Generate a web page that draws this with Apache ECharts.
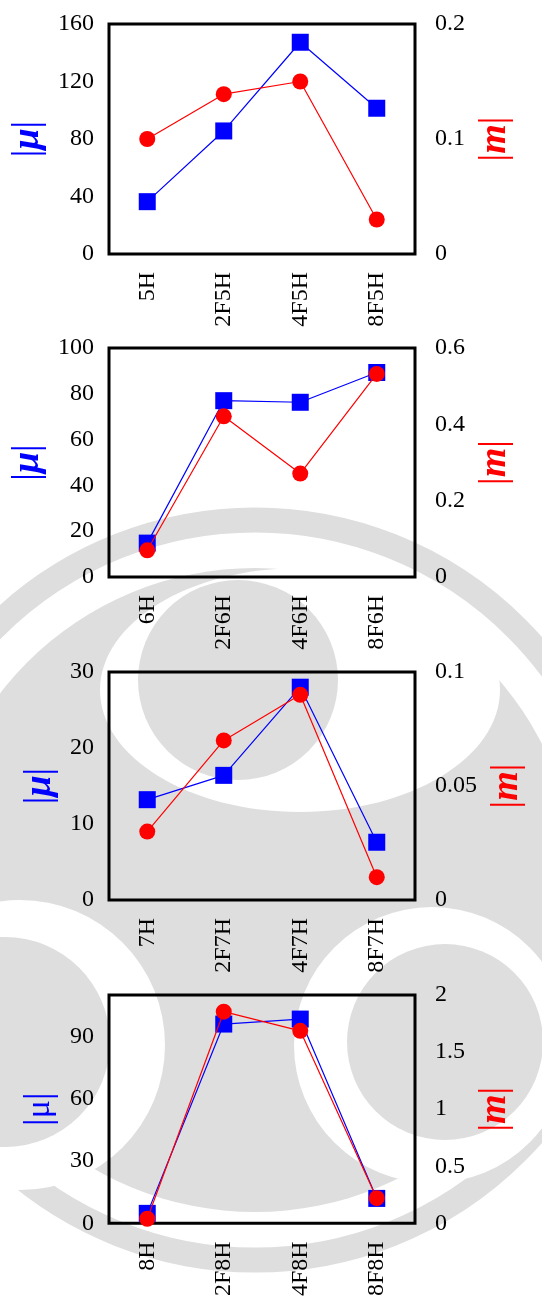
<!DOCTYPE html>
<html>
<head>
<meta charset="utf-8">
<script src="https://cdn.jsdelivr.net/npm/echarts@6/dist/echarts.min.js"></script>
<style>
html,body{margin:0;padding:0;background:#fff;}
#c{width:542px;height:1299px;}
</style>
</head>
<body>
<div id="c"></div>
<script>
// ---- data ----
const cats1 = ['5H', '2F5H', '4F5H', '8F5H'];
const cats2 = ['6H', '2F6H', '4F6H', '8F6H'];
const cats3 = ['7H', '2F7H', '4F7H', '8F7H'];
const cats4 = ['8H', '2F8H', '4F8H', '8F8H'];

const mu1 = [36.4, 85.6, 147.3, 101.4];
const m1  = [0.100, 0.139, 0.150, 0.030];
const mu2 = [14.8, 77.0, 76.3, 89.3];
const m2  = [0.070, 0.421, 0.271, 0.532];
const mu3 = [13.2, 16.4, 28.0, 7.6];
const m3  = [0.030, 0.070, 0.090, 0.010];
const mu4 = [4.8, 96.0, 98.4, 12.0];
const m4  = [0.040, 1.854, 1.686, 0.220];

// axis ranges [min, max, interval]
const muRange1 = [0, 160, 40], mRange1 = [0, 0.2, 0.1];
const muRange2 = [0, 100, 20], mRange2 = [0, 0.6, 0.2];
const muRange3 = [0, 30, 10],  mRange3 = [0, 0.1, 0.05];
const muRange4 = [0, 110, 30], mRange4 = [0, 2, 0.5];

const muName = '{n||}{g|μ}{n||}';
const muNameUpright = '{n||}{u|μ}{n||}';
const mName = '{n||}{g|m}{n||}';

// ---- layout ----
const panels = [
  {cats: cats1, mu: mu1, m: m1, muR: muRange1, mR: mRange1, top: 24,  h: 230, lgap: 61, rgap: 50, muN: muName},
  {cats: cats2, mu: mu2, m: m2, muR: muRange2, mR: mRange2, top: 348, h: 229, lgap: 61, rgap: 50, muN: muName},
  {cats: cats3, mu: mu3, m: m3, muR: muRange3, mR: mRange3, top: 672, h: 228, lgap: 46, rgap: 69, muN: muName},
  {cats: cats4, mu: mu4, m: m4, muR: muRange4, mR: mRange4, top: 995, h: 229, lgap: 46, rgap: 50, muN: muNameUpright}
];

const FONT = 'Liberation Serif';
const NS = 38;
const tickStyle = {color: '#333', width: 1.5};
const grids = [], xAxes = [], yAxes = [], series = [];

function richFor(color) {
  return {
    n: {fontSize: NS, fontFamily: FONT, color: color},
    g: {fontSize: NS, fontFamily: FONT, color: color, fontStyle: 'italic', fontWeight: 'bold'},
    u: {fontSize: NS - 4, fontFamily: FONT, color: color}
  };
}

panels.forEach((p, i) => {
  grids.push({left: 109, width: 306, top: p.top, height: p.h, show: true,
              borderColor: '#000', borderWidth: 3, backgroundColor: 'transparent', z: 1});
  const xBase = {gridIndex: i, type: 'category', data: p.cats, boundaryGap: true,
                 axisLine: {show: false}, splitLine: {show: false},
                 axisTick: {inside: true, alignWithLabel: true, length: 14, lineStyle: tickStyle}};
  xAxes.push(Object.assign({}, xBase, {position: 'bottom',
    axisLabel: {rotate: 90, margin: 18, fontSize: 24, fontFamily: FONT, color: '#000'}}));
  xAxes.push(Object.assign({}, xBase, {position: 'top', axisLabel: {show: false}}));
  const yBase = {gridIndex: i, type: 'value', axisLine: {show: false}, splitLine: {show: false},
                 axisTick: {inside: true, length: 16, lineStyle: tickStyle},
                 nameLocation: 'middle', nameRotate: 90};
  yAxes.push(Object.assign({}, yBase, {position: 'left', min: p.muR[0], max: p.muR[1], interval: p.muR[2],
    axisLabel: {margin: 15, fontSize: 24, fontFamily: FONT, color: '#000', showMaxLabel: i !== 3},
    name: p.muN, nameGap: p.lgap,
    nameTextStyle: {color: '#0000ff', fontFamily: FONT, fontSize: NS, rich: richFor('#0000ff')}}));
  yAxes.push(Object.assign({}, yBase, {position: 'right', min: p.mR[0], max: p.mR[1], interval: p.mR[2],
    axisLabel: {margin: 20, fontSize: 24, fontFamily: FONT, color: '#000'},
    name: mName, nameGap: p.rgap,
    nameTextStyle: {color: '#ff0000', fontFamily: FONT, fontSize: NS, rich: richFor('#ff0000')}}));
  series.push({type: 'line', xAxisIndex: 2 * i, yAxisIndex: 2 * i, data: p.mu,
    symbol: 'rect', symbolSize: 17, lineStyle: {color: '#0000ff', width: 1.2},
    itemStyle: {color: '#0000ff'}, z: 3});
  series.push({type: 'line', xAxisIndex: 2 * i, yAxisIndex: 2 * i + 1, data: p.m,
    symbol: 'circle', symbolSize: 16, lineStyle: {color: '#ff0000', width: 1.2},
    itemStyle: {color: '#ff0000'}, z: 4});
});

// ---- faint background watermark (approximate) ----
const WM = '#dedede';
const wm = [
  {type: 'circle', shape: {cx: 255, cy: 890, r: 370}, style: {fill: 'none', stroke: WM, lineWidth: 25}},
  {type: 'circle', shape: {cx: 255, cy: 890, r: 322}, style: {fill: WM}},
  {type: 'ellipse', shape: {cx: 300, cy: 690, rx: 200, ry: 122}, style: {fill: '#fff'}},
  {type: 'circle', shape: {cx: 238, cy: 680, r: 100}, style: {fill: WM}},
  {type: 'circle', shape: {cx: 432, cy: 1045, r: 138}, style: {fill: '#fff'}},
  {type: 'circle', shape: {cx: 445, cy: 1042, r: 98}, style: {fill: WM}},
  {type: 'circle', shape: {cx: 20, cy: 1045, r: 145}, style: {fill: '#fff'}},
  {type: 'circle', shape: {cx: 5, cy: 1042, r: 105}, style: {fill: WM}}
].map(e => Object.assign(e, {z: -100, silent: true}));

const chart = echarts.init(document.getElementById('c'), null, {renderer: 'canvas'});
chart.setOption({
  backgroundColor: '#fff',
  animation: false,
  graphic: wm,
  grid: grids,
  xAxis: xAxes,
  yAxis: yAxes,
  series: series
});
</script>
</body>
</html>
